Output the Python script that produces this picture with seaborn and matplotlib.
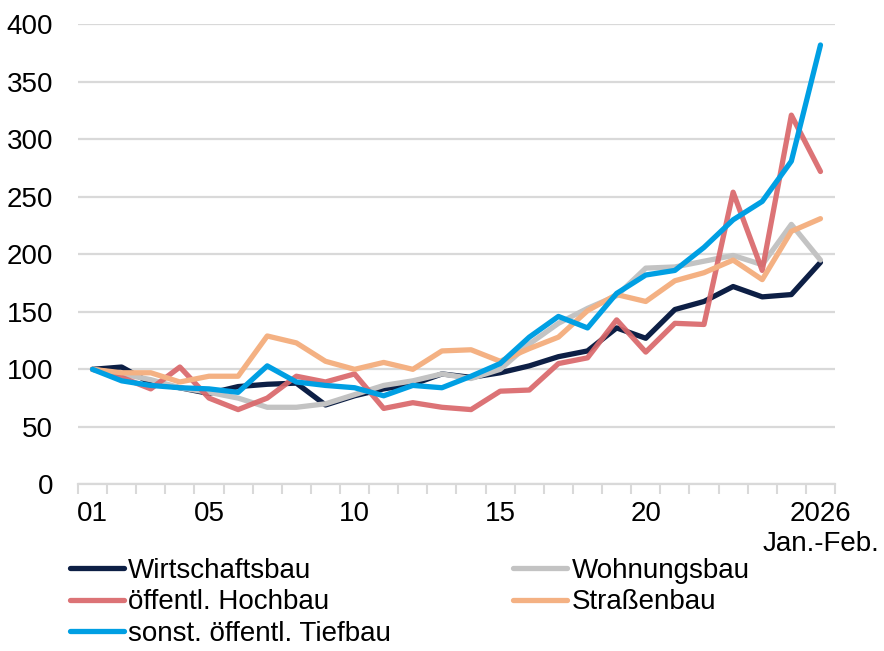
import numpy as np
import pandas as pd
import seaborn as sns
import matplotlib.pyplot as plt

# Jahre 2001 bis 2026 (2026 = Jan.-Feb.)
years = list(range(2001, 2027))
tick_pos = [0, 4, 9, 14, 19, 25]
tick_labels = ["01", "05", "10", "15", "20", "2026\nJan.-Feb."]

wirtschaftsbau = [100, 102, 88, 84, 79, 85, 87, 88, 69, 77, 83, 87, 96, 93, 97, 103,
                  111, 116, 136, 127, 152, 159, 172, 163, 165, 193]
wohnungsbau = [100, 96, 91, 84, 80, 75, 67, 67, 70, 78, 86, 90, 96, 92, 100, 122,
               140, 153, 164, 188, 189, 194, 199, 191, 226, 195]
oeff_hochbau = [100, 93, 83, 102, 75, 65, 75, 94, 89, 96, 66, 71, 67, 65, 81, 82,
                105, 110, 143, 115, 140, 139, 254, 186, 321, 272]
strassenbau = [100, 97, 97, 89, 94, 94, 129, 123, 107, 100, 106, 100, 116, 117, 107, 118,
               128, 151, 165, 159, 177, 184, 195, 178, 220, 231]
tiefbau = [100, 90, 86, 84, 83, 80, 103, 89, 86, 84, 77, 86, 84, 94, 105, 128,
           146, 136, 166, 182, 186, 206, 230, 246, 281, 382]

series = {
    "Wirtschaftsbau": wirtschaftsbau,
    "Wohnungsbau": wohnungsbau,
    "öffentl. Hochbau": oeff_hochbau,
    "Straßenbau": strassenbau,
    "sonst. öffentl. Tiefbau": tiefbau,
}
colors = {
    "Wirtschaftsbau": "#0d1f45",
    "Wohnungsbau": "#c3c3c3",
    "öffentl. Hochbau": "#d9676a",
    "Straßenbau": "#f4b183",
    "sonst. öffentl. Tiefbau": "#009fe3",
}
alphas = {"öffentl. Hochbau": 0.92}

df = pd.DataFrame({"pos": np.arange(len(years))})
for name, vals in series.items():
    df[name] = vals

sns.set_theme(style="white")
plt.rcParams["font.family"] = ["Liberation Sans", "DejaVu Sans"]
plt.rcParams["text.color"] = "black"
plt.rcParams["xtick.color"] = "black"
plt.rcParams["ytick.color"] = "black"

fig, ax = plt.subplots(figsize=(8.84, 6.51), dpi=100)
fig.subplots_adjust(left=0.0882, right=0.9446, bottom=0.256, top=0.9627)

handles = {}
for name in series:
    sns.lineplot(data=df, x="pos", y=name, ax=ax, color=colors[name], linewidth=3.8,
                 alpha=alphas.get(name, 1.0), label=name, legend=False)
    handles[name] = ax.get_lines()[-1]

ax.set_xlim(-0.5, len(years) - 0.5)
ax.set_ylim(0, 400)
ax.set_yticks(range(0, 401, 50))
ax.yaxis.grid(True, color="#d9d9d9", linewidth=1.6)
ax.set_axisbelow(True)
ax.set_xticks(tick_pos)
ax.set_xticklabels(tick_labels, fontsize=20)
ax.set_xticks(np.arange(-0.5, len(years), 1), minor=True)
ax.tick_params(axis="x", which="major", length=0, pad=12, labelcolor="black")
ax.tick_params(axis="x", which="minor", length=7, width=1.5, color="#d9d9d9", bottom=True)
ax.tick_params(axis="y", length=0, pad=18, labelsize=20, labelcolor="black")
ax.set_xlabel("")
ax.set_ylabel("")

for s in ["top", "right", "left"]:
    ax.spines[s].set_visible(False)
ax.spines["bottom"].set_color("#d9d9d9")
ax.spines["bottom"].set_linewidth(1.6)

order = ["Wirtschaftsbau", "öffentl. Hochbau", "sonst. öffentl. Tiefbau",
         "Wohnungsbau", "Straßenbau"]
leg = fig.legend([handles[n] for n in order], order, loc="upper left",
                 bbox_to_anchor=(0.079, 0.143), ncol=2, frameon=False, fontsize=20,
                 handlelength=1.95, handletextpad=0.15, columnspacing=4.4,
                 labelspacing=0.2, borderpad=0, borderaxespad=0)
for t in leg.get_texts():
    t.set_color("black")

fig.savefig("out.png", dpi=100)
